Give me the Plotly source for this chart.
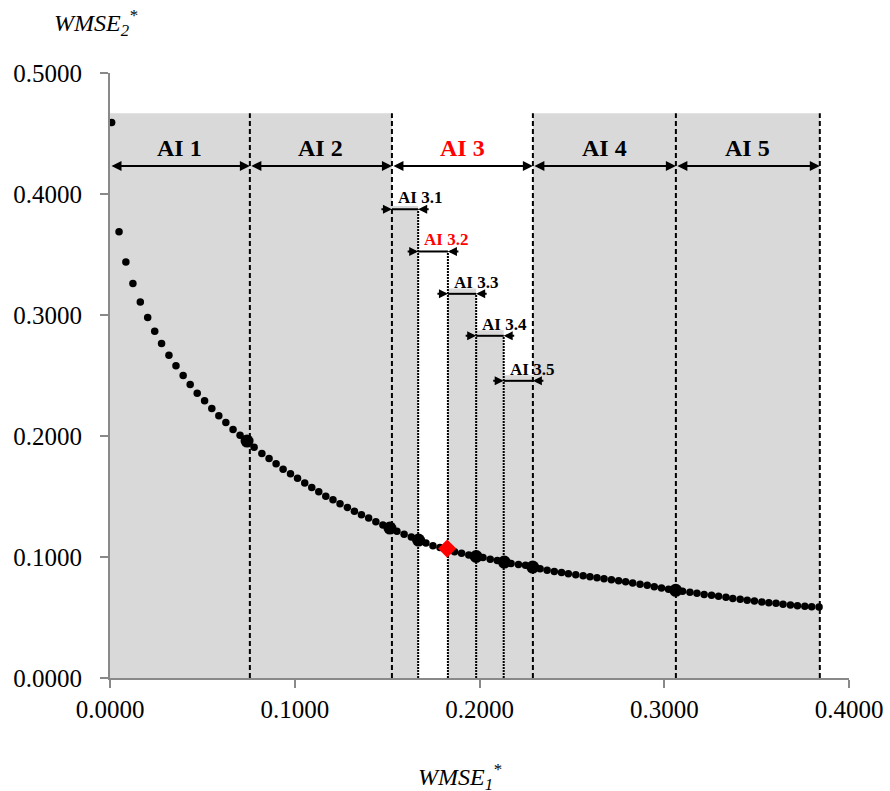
import plotly.graph_objects as go

# ---------------- data ----------------
wmse1 = [0.0009, 0.0049, 0.0086, 0.0124, 0.0164, 0.0204, 0.0242, 0.0279, 0.0319, 0.0357,
         0.0396, 0.0434, 0.0472, 0.0512, 0.0551, 0.0589, 0.0627, 0.0666, 0.0704, 0.0742,
         0.0780, 0.0822, 0.0861, 0.0899, 0.0937, 0.0977, 0.1015, 0.1054, 0.1092, 0.1130,
         0.1168, 0.1207, 0.1245, 0.1285, 0.1323, 0.1361, 0.1400, 0.1439, 0.1477, 0.1515,
         0.1553, 0.1592, 0.1631, 0.1670, 0.1710, 0.1748, 0.1786, 0.1825, 0.1865, 0.1903,
         0.1942, 0.1982, 0.2019, 0.2058, 0.2096, 0.2134, 0.2171, 0.2211, 0.2249, 0.2288,
         0.2328, 0.2366, 0.2405, 0.2444, 0.2481, 0.2521, 0.2561, 0.2598, 0.2636, 0.2674,
         0.2714, 0.2753, 0.2791, 0.2829, 0.2869, 0.2908, 0.2946, 0.2985, 0.3023, 0.3062,
         0.3099, 0.3139, 0.3177, 0.3216, 0.3256, 0.3294, 0.3334, 0.3371, 0.3411, 0.3449,
         0.3488, 0.3528, 0.3566, 0.3605, 0.3643, 0.3683, 0.3721, 0.3761, 0.3798, 0.3838]
wmse2 = [0.4590, 0.3687, 0.3439, 0.3260, 0.3108, 0.2980, 0.2866, 0.2765, 0.2668, 0.2580,
         0.2500, 0.2426, 0.2354, 0.2291, 0.2228, 0.2167, 0.2112, 0.2054, 0.2007, 0.1958,
         0.1906, 0.1856, 0.1815, 0.1770, 0.1726, 0.1688, 0.1650, 0.1611, 0.1575, 0.1539,
         0.1503, 0.1473, 0.1440, 0.1410, 0.1379, 0.1349, 0.1322, 0.1291, 0.1264, 0.1239,
         0.1212, 0.1187, 0.1165, 0.1140, 0.1115, 0.1093, 0.1078, 0.1061, 0.1043, 0.1030,
         0.1016, 0.1004, 0.0995, 0.0981, 0.0971, 0.0958, 0.0947, 0.0939, 0.0931, 0.0917,
         0.0902, 0.0890, 0.0881, 0.0871, 0.0862, 0.0853, 0.0845, 0.0837, 0.0829, 0.0820,
         0.0812, 0.0804, 0.0795, 0.0785, 0.0774, 0.0766, 0.0754, 0.0743, 0.0733, 0.0725,
         0.0716, 0.0708, 0.0700, 0.0691, 0.0683, 0.0675, 0.0667, 0.0658, 0.0650, 0.0642,
         0.0636, 0.0628, 0.0622, 0.0617, 0.0609, 0.0603, 0.0597, 0.0592, 0.0589, 0.0586]

key_x = [0.0742, 0.1515, 0.1670, 0.1982, 0.2134, 0.2288, 0.3062]
key_y = [0.1958, 0.1239, 0.1140, 0.1004, 0.0958, 0.0917, 0.0725]

chosen_x = [0.1825]
chosen_y = [0.1070]

ai_bounds = [0.0, 0.0757, 0.1526, 0.2289, 0.3063, 0.3842]
ai_labels = ["AI 1", "AI 2", "AI 3", "AI 4", "AI 5"]
ai_colors = ["black", "black", "red", "black", "black"]
ai_shaded = [True, True, False, True, True]
shade_top = 0.4667
ai_arrow_y = 0.4232
ai_label_y = 0.4378

sub_bounds = [0.1526, 0.1668, 0.1829, 0.1982, 0.2131, 0.2289]
sub_labels = ["AI 3.1", "AI 3.2", "AI 3.3", "AI 3.4", "AI 3.5"]
sub_colors = ["black", "red", "black", "black", "black"]
sub_arrow_y = [0.3874, 0.3525, 0.3175, 0.2828, 0.2456]
sub_shade_top = [0.3900, None, 0.3218, 0.2875, 0.2503]

x_ticks = [0.0, 0.1, 0.2, 0.3, 0.4]
y_ticks = [0.0, 0.1, 0.2, 0.3, 0.4, 0.5]

FONT = "Liberation Serif"
GRAY = "#d9d9d9"
AXIS = "#898989"

fig = go.Figure()

shapes = []
# shaded intervals
for i in range(5):
    if ai_shaded[i]:
        shapes.append(dict(type="rect", xref="x", yref="y", x0=ai_bounds[i], x1=ai_bounds[i + 1],
                           y0=0, y1=shade_top, fillcolor=GRAY, line_width=0, layer="below"))
for i in range(5):
    if sub_shade_top[i] is not None:
        shapes.append(dict(type="rect", xref="x", yref="y", x0=sub_bounds[i], x1=sub_bounds[i + 1],
                           y0=0, y1=sub_shade_top[i], fillcolor=GRAY, line_width=0, layer="below"))
# dashed interval boundaries
for b in ai_bounds[1:]:
    shapes.append(dict(type="line", xref="x", yref="y", x0=b, x1=b, y0=0, y1=shade_top,
                       line=dict(color="black", width=2, dash="5px,3px"), layer="below"))
# dotted sub-interval boundaries
for i in range(1, 5):
    shapes.append(dict(type="line", xref="x", yref="y", x0=sub_bounds[i], x1=sub_bounds[i],
                       y0=0, y1=sub_arrow_y[i - 1],
                       line=dict(color="black", width=2, dash="2px,1px"), layer="below"))
# sub-interval arrow shafts
for i in range(5):
    shapes.append(dict(type="line", xref="x", yref="y", x0=sub_bounds[i], x1=sub_bounds[i + 1],
                       y0=sub_arrow_y[i], y1=sub_arrow_y[i], line=dict(color="black", width=2)))

annotations = []
# main double-headed arrows and labels
for i in range(5):
    annotations.append(dict(x=ai_bounds[i + 1], y=ai_arrow_y, ax=ai_bounds[i], ay=ai_arrow_y,
                            xref="x", yref="y", axref="x", ayref="y", text="", showarrow=True,
                            arrowside="end+start", arrowhead=2, startarrowhead=2,
                            arrowsize=1.0, startarrowsize=1.0, arrowwidth=2, arrowcolor="black",
                            standoff=0, startstandoff=0))
    annotations.append(dict(x=(ai_bounds[i] + ai_bounds[i + 1]) / 2, y=ai_label_y, xref="x", yref="y",
                            text="<b>" + ai_labels[i] + "</b>", showarrow=False,
                            font=dict(family=FONT, size=24, color=ai_colors[i]),
                            xanchor="center", yanchor="middle"))
# sub-interval arrows (pointing inward at the boundaries) and labels
for i in range(5):
    y = sub_arrow_y[i]
    annotations.append(dict(x=sub_bounds[i], y=y, ax=-12, ay=0, xref="x", yref="y", text="",
                            showarrow=True, arrowhead=2, arrowsize=0.9, arrowwidth=2,
                            arrowcolor="black", standoff=0))
    annotations.append(dict(x=sub_bounds[i + 1], y=y, ax=12, ay=0, xref="x", yref="y", text="",
                            showarrow=True, arrowhead=2, arrowsize=0.9, arrowwidth=2,
                            arrowcolor="black", standoff=0))
    annotations.append(dict(x=sub_bounds[i], y=y, xref="x", yref="y", xshift=4, yshift=0,
                            text="<b>" + sub_labels[i] + "</b>", showarrow=False,
                            font=dict(family=FONT, size=17, color=sub_colors[i]),
                            xanchor="left", yanchor="bottom"))
# axis titles
annotations.append(dict(x=-0.078, y=1.083, xref="paper", yref="paper",
                        text="<i>WMSE<sub>2</sub><sup>*</sup></i>", showarrow=False,
                        font=dict(family=FONT, size=24, color="black"),
                        xanchor="left", yanchor="middle"))
annotations.append(dict(x=0.414, y=-0.164, xref="paper", yref="paper",
                        text="<i>WMSE<sub>1</sub><sup>*</sup></i>", showarrow=False,
                        font=dict(family=FONT, size=24, color="black"),
                        xanchor="left", yanchor="middle"))

fig.add_trace(go.Scatter(x=wmse1, y=wmse2, mode="markers",
                         marker=dict(color="black", size=7.5), showlegend=False))
fig.add_trace(go.Scatter(x=key_x, y=key_y, mode="markers",
                         marker=dict(color="black", size=13), showlegend=False))
fig.add_trace(go.Scatter(x=chosen_x, y=chosen_y, mode="markers",
                         marker=dict(color="red", size=14, symbol="diamond"), showlegend=False))

fig.update_layout(
    width=890, height=791,
    margin=dict(l=110, r=41, t=73, b=113),
    plot_bgcolor="white", paper_bgcolor="white",
    shapes=shapes, annotations=annotations,
    font=dict(family=FONT, size=25, color="black"),
    xaxis=dict(range=[0, 0.4], tickvals=x_ticks, tickformat=".4f", showgrid=False, zeroline=False,
               showline=True, linecolor=AXIS, linewidth=2, ticks="outside", ticklen=8, tickwidth=2,
               tickcolor=AXIS, ticklabelstandoff=0, automargin=False, ticklabeloverflow="allow",
               tickfont=dict(family=FONT, size=25, color="black")),
    yaxis=dict(range=[0, 0.5], tickvals=y_ticks, tickformat=".4f", showgrid=False, zeroline=False,
               showline=True, linecolor=AXIS, linewidth=2, ticks="outside", ticklen=8, tickwidth=2,
               tickcolor=AXIS, ticklabelstandoff=13, automargin=False, ticklabeloverflow="allow",
               tickfont=dict(family=FONT, size=25, color="black")),
)

# remove the default page margin so the figure fills the window exactly
fig.write_html("out.html", config={"displayModeBar": False},
               post_script="document.body.style.margin='0';")
